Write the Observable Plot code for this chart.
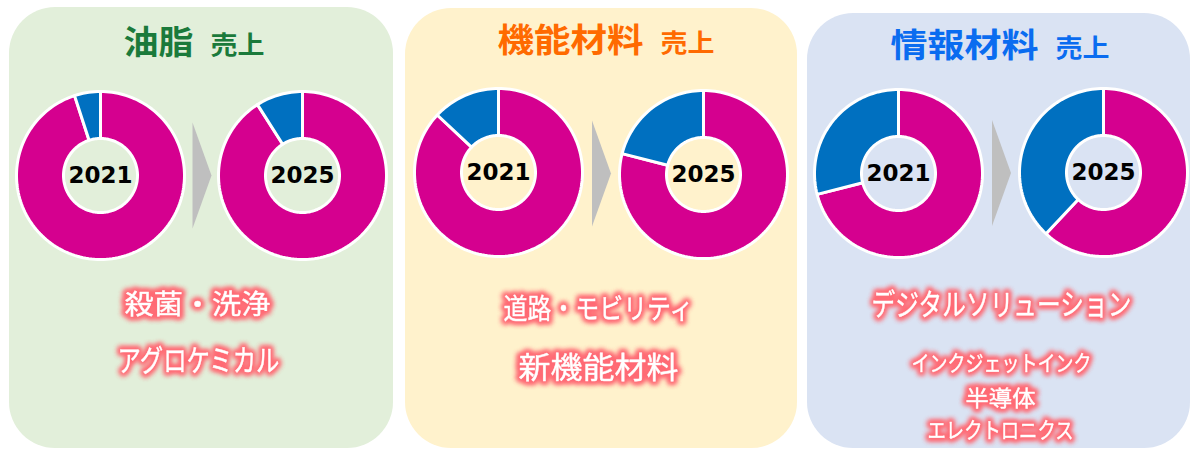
<!DOCTYPE html>
<html>
<head>
<meta charset="utf-8">
<script src="https://cdn.jsdelivr.net/npm/d3@7"></script>
<script src="https://cdn.jsdelivr.net/npm/@observablehq/plot@0.6"></script>
<style>
  html, body { margin: 0; padding: 0; background: #ffffff; }
  #chart svg { display: block; }
</style>
</head>
<body>
<div id="chart"></div>
<script>
// ---------------- data ----------------
const segments = ["油脂", "機能材料", "情報材料"];
const titleSuffix = "売上";
const years = ["2021", "2025"];
// share (%) of the blue (new-business) slice in each donut
const blueShare2021 = [5, 13, 29];
const blueShare2025 = [9, 21, 38];
const labelLines = [
  ["殺菌・洗浄", "アグロケミカル"],
  ["道路・モビリティ", "新機能材料"],
  ["デジタルソリューション", "インクジェットインク", "半導体", "エレクトロニクス"]
];

// ---------------- layout & style ----------------
const W = 1203, H = 450;
const panelBoxes = [[9, 393, 7, 448], [405, 797, 8, 448], [807, 1190, 13, 448]];
const panelFill = ["#e2efda", "#fff2cc", "#dae3f3"];
const titleColor = ["#1b7a3b", "#ff6a00", "#0a6cf0"];
const titleLayout = [[123, 43, 70], [497, 41, 146], [890, 46, 148]]; // xStart, yCenter, main width
const donutCenters = [[[100, 175], [302, 175]], [[498, 172], [703, 174]], [[898, 173], [1103, 172]]];
const rOuter = 84, rInner = 37;
const pink = "#d5008f", blue = "#0070c0";
const labelLayout = [
  [[197, 305, 27, 146], [198, 361, 30, 162]],
  [[598, 310, 28, 190], [598, 368, 30, 160]],
  [[1001, 305, 30, 260], [1001, 363, 22, 180], [1000, 398, 22, 70], [1000, 430, 22, 146]]
];

// ---------------- derived tables ----------------
const panels = segments.map((s, i) => ({
  x1: panelBoxes[i][0], x2: panelBoxes[i][1], y1: panelBoxes[i][2], y2: panelBoxes[i][3], fill: panelFill[i]
}));

const titles = [], suffixes = [];
segments.forEach((s, i) => {
  const [x0, y, w] = titleLayout[i];
  titles.push({text: s, x: x0, y, color: titleColor[i], w});
  suffixes.push({text: titleSuffix, x: x0 + w + 17, y: y + 2, color: titleColor[i], w: 54});
});

const wedgePts = [];
const yearLabels = [];
const shares = [blueShare2021, blueShare2025];
segments.forEach((s, i) => {
  years.forEach((yr, j) => {
    const [cx, cy] = donutCenters[i][j];
    const b = shares[j][i] / 100;
    const slices = [
      {id: `${i}-${j}-p`, a0: 0, a1: (1 - b) * 2 * Math.PI, color: pink},
      {id: `${i}-${j}-b`, a0: (1 - b) * 2 * Math.PI, a1: 2 * Math.PI, color: blue}
    ];
    for (const sl of slices) {
      const n = Math.max(4, Math.ceil((sl.a1 - sl.a0) / (2 * Math.PI) * 180));
      const pts = [];
      for (let k = 0; k <= n; k++) {
        const a = sl.a0 + (sl.a1 - sl.a0) * k / n;
        pts.push({x: cx + rOuter * Math.sin(a), y: cy - rOuter * Math.cos(a)});
      }
      for (let k = n; k >= 0; k--) {
        const a = sl.a0 + (sl.a1 - sl.a0) * k / n;
        pts.push({x: cx + rInner * Math.sin(a), y: cy - rInner * Math.cos(a)});
      }
      pts.push({...pts[0]});
      pts.forEach(p => wedgePts.push({...p, id: sl.id, color: sl.color}));
    }
    yearLabels.push({text: yr, x: cx, y: cy});
  });
});

const arrows = [];
segments.forEach((s, i) => {
  const [[ax, ay], [bx, by]] = donutCenters[i];
  const mx = (ax + bx) / 2, my = (ay + by) / 2;
  [[mx - 9, my - 53], [mx + 10, my], [mx - 9, my + 53], [mx - 9, my - 53]]
    .forEach(([x, y]) => arrows.push({x, y, id: i}));
});

const labels = [];
labelLines.forEach((lines, i) => lines.forEach((t, k) => {
  const [x, y, size, w] = labelLayout[i][k];
  labels.push({text: t, x, y, size, w});
}));

// ---------------- plot ----------------
const jp = "'Noto Sans CJK JP', 'Noto Sans', sans-serif";
const svg = Plot.plot({
  width: W, height: H, margin: 0,
  x: {domain: [0, W], range: [0, W], axis: null},
  y: {domain: [0, H], range: [0, H], axis: null},
  color: {type: "identity"},
  style: {background: "#ffffff", fontFamily: jp, overflow: "hidden"},
  marks: [
    Plot.rect(panels, {x1: "x1", x2: "x2", y1: "y1", y2: "y2", fill: "fill", rx: 46, ry: 46}),
    Plot.line(arrows, {x: "x", y: "y", z: "id", fill: "#bfbfbf", stroke: "none", curve: "linear"}),
    Plot.line(wedgePts, {x: "x", y: "y", z: "id", fill: "color", stroke: "#ffffff", strokeWidth: 3, strokeLinejoin: "miter", curve: "linear"}),
    Plot.text(yearLabels, {x: "x", y: "y", text: "text", fill: "#000000", fontSize: 23, fontWeight: "bold", fontFamily: "'DejaVu Sans', Verdana, sans-serif"}),
    Plot.text(titles, {x: "x", y: "y", text: "text", fill: "color", fontSize: 33, fontWeight: "bold", textAnchor: "start", ariaDescription: "title-main"}),
    Plot.text(suffixes, {x: "x", y: "y", text: "text", fill: "color", fontSize: 25, fontWeight: "bold", textAnchor: "start", ariaDescription: "title-suffix"}),
    Plot.text(labels, {x: "x", y: "y", text: "text", fontSize: d => d.size, fill: "#ff6b74", stroke: "#ff6b74", strokeWidth: 6, strokeLinejoin: "round", ariaDescription: "label-glow"}),
    Plot.text(labels, {x: "x", y: "y", text: "text", fontSize: d => d.size, fill: "#ffffff", stroke: "#ffe6e8", strokeWidth: 0.5, ariaDescription: "label-white"})
  ]
});

document.getElementById("chart").appendChild(svg);

// glow filter (blurred pink halo, doubled for strength)
const root = d3.select(svg);
const defs = root.append("defs");
const f = defs.append("filter").attr("id", "pinkGlow").attr("x", "-20%").attr("y", "-50%").attr("width", "140%").attr("height", "200%");
f.append("feGaussianBlur").attr("stdDeviation", 2.4).attr("result", "blur");
const merge = f.append("feMerge");
merge.append("feMergeNode").attr("in", "blur");
merge.append("feMergeNode").attr("in", "blur");
root.select('g[aria-description="label-glow"]').attr("filter", "url(#pinkGlow)");

// stretch text horizontally to the measured widths of the reference
function fit(label, rows) {
  root.selectAll(`g[aria-description="${label}"] text`).each(function (d, k) {
    const i = typeof d === "number" ? d : k;
    const natural = this.getComputedTextLength();
    if (!natural || !rows[i]) return;
    const sx = rows[i].w / natural;
    const x = parseFloat(this.getAttribute("x")) || 0;
    const t = this.getAttribute("transform") || "";
    this.setAttribute("transform", `${t} translate(${x},0) scale(${sx},1) translate(${-x},0)`);
  });
}
fit("label-glow", labels);
fit("label-white", labels);
fit("title-main", titles);
fit("title-suffix", suffixes);
</script>
</body>
</html>
